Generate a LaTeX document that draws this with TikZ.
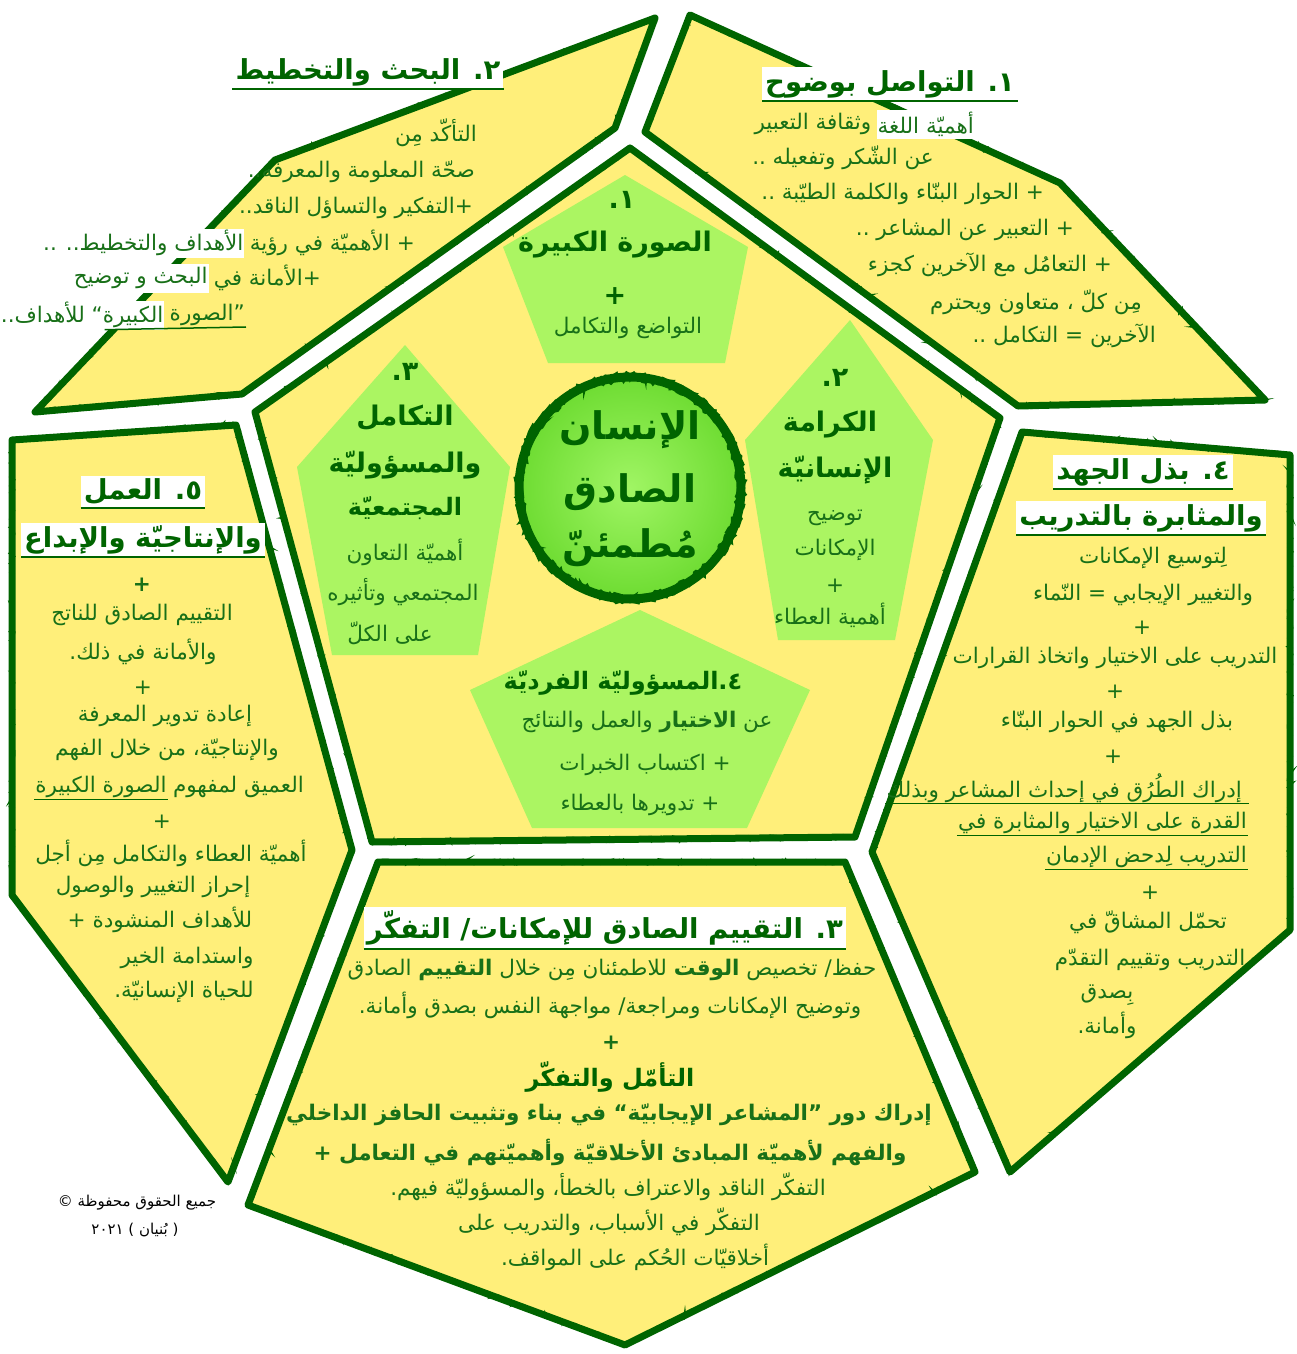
\documentclass[tikz,border=0pt]{standalone}
\usepackage{fontspec}
\usetikzlibrary{decorations.pathmorphing}
\TeXXeTstate=1
\newfontfamily\arfont[Script=Arabic]{DejaVu Sans}
\newcommand\AR[1]{\beginR #1\endR}
\definecolor{yel}{RGB}{255,239,122}
\definecolor{lgr}{RGB}{171,245,98}
\definecolor{dgr}{RGB}{0,100,0}
\definecolor{tgr}{RGB}{24,112,24}
\definecolor{cin}{RGB}{160,245,100}
\definecolor{cout}{RGB}{110,220,50}
\tikzset{
 region/.style={fill=yel, draw=dgr, line width=7pt, line join=round},
 rough/.style={draw=dgr, line width=2pt, decorate, decoration={random steps, segment length=3pt, amplitude=2.5pt}},
 gpent/.style={fill=lgr, draw=none},
 body/.style={text=tgr, font=\arfont\fontsize{21.5}{25}\selectfont, inner sep=1pt},
 bodyb/.style={text=tgr, font=\arfont\bfseries\fontsize{21.5}{25}\selectfont, inner sep=1pt},
 wbox/.style={fill=white, minimum height=29pt},
 title/.style={text=dgr, fill=white, font=\arfont\bfseries\fontsize{27.5}{33}\selectfont, inner sep=3pt},
 head/.style={text=dgr, font=\arfont\bfseries\fontsize{27}{31}\selectfont, inner sep=1pt},
 headm/.style={text=dgr, font=\arfont\bfseries\fontsize{24}{28}\selectfont, inner sep=1pt},
 big/.style={text=dgr, font=\arfont\bfseries\fontsize{38}{44}\selectfont, inner sep=1pt},
 uline/.style={draw=dgr, line width=1.5pt},
 copy/.style={text=black, font=\arfont\fontsize{15}{18}\selectfont, inner sep=1pt},
}
\begin{document}
\begin{tikzpicture}[x=1pt,y=-1pt]
\fill[white] (0,0) rectangle (1296,1354);
\useasboundingbox (0,0) rectangle (1296,1354);
% ---------- outer regions ----------
\def\pA{(242,394) -- (615,128) -- (655,18) -- (275,160) -- (35,412) -- cycle}
\def\pB{(645,132) -- (690,15) -- (1060,183) -- (1265,400) -- (1018,406) -- cycle}
\def\pC{(1022,432) -- (1290,455) -- (1290,930) -- (1010,1172) -- (872,852) -- cycle}
\def\pD{(378,862) -- (845,862) -- (975,1172) -- (625,1345) -- (248,1205) -- cycle}
\def\pE{(12,440) -- (236,425) -- (352,850) -- (228,1182) -- (12,895) -- cycle}
\def\pI{(630,148) -- (1000,418) -- (855,837) -- (372,842) -- (255,412) -- cycle}
\foreach \p in {\pA,\pB,\pC,\pD,\pE,\pI}{
  \draw[region] \p;
  \draw[rough] \p;
}
% ---------- green pentagons ----------
\fill[gpent] (625,175) -- (748,247) -- (725,363) -- (548,363) -- (503,247) -- cycle;
\fill[gpent] (850,320) -- (933,440) -- (895,640) -- (778,640) -- (745,440) -- cycle;
\fill[gpent] (405,345) -- (510,467) -- (478,655) -- (332,655) -- (297,467) -- cycle;
\fill[gpent] (640,610) -- (810,690) -- (747,828) -- (532,828) -- (470,690) -- cycle;
% ---------- centre circle ----------
\node[circle, minimum size=222pt, inner color=cin, outer color=cout, draw=dgr, line width=9pt] (ctr) at (630,488) {};
\draw[rough, line width=3pt] (ctr.center) circle (113);
\draw[rough] (ctr.center) circle (108);
\node[big] (m1) at (630,430) {\AR{الإنسان}};
\node[big] (m2) at (630,492) {\AR{الصادق}};
\node[big] (m3) at (630,548) {\AR{مُطمئنّ}};
% ---------- inner pentagon 1 ----------
\node[head] (p1a) at (622,200) {\AR{١\kern0pt.}};
\node[head] (p1b) at (615,245) {\AR{الصورة الكبيرة}};
\node[head] (p1c) at (615,296) {+};
\node[body] (p1d) at (628,328) {\AR{التواضع والتكامل}};
% ---------- inner pentagon 2 ----------
\node[head] (p2a) at (835,378) {\AR{٢\kern0pt.}};
\node[head] (p2b) at (830,425) {\AR{الكرامة}};
\node[head] (p2c) at (835,470) {\AR{الإنسانيّة}};
\node[body] (p2d) at (835,518) {\AR{توضيح}};
\node[body] (p2e) at (835,550) {\AR{الإمكانات}};
\node[body] (p2f) at (835,586) {+};
\node[body] (p2g) at (830,615) {\AR{أهمية العطاء}};
% ---------- inner pentagon 3 ----------
\node[head] (p3a) at (405,372) {\AR{٣\kern0pt.}};
\node[head] (p3b) at (405,418) {\AR{التكامل}};
\node[head] (p3c) at (405,465) {\AR{والمسؤوليّة}};
\node[headm] (p3d) at (405,508) {\AR{المجتمعيّة}};
\node[body] (p3e) at (405,552) {\AR{أهميّة التعاون}};
\node[body] (p3f) at (403,592) {\AR{المجتمعي وتأثيره}};
\node[body] (p3g) at (390,633) {\AR{على الكلّ}};
% ---------- inner pentagon 4 ----------
\node[headm] (p4a) at (623,683) {\AR{٤\kern0pt.\kern0ptالمسؤوليّة الفرديّة}};
\node[body] (p4b) at (647,722) {\AR{عن {\bfseries الاختيار} والعمل والنتائج}};
\node[body] (p4c) at (645,765) {\AR{+ اكتساب الخبرات}};
\node[body] (p4d) at (640,805) {\AR{+ تدويرها بالعطاء}};
% ---------- region A ----------
\node[title] (tA) at (368,72) {\AR{٢\kern0pt. البحث والتخطيط}};
\draw[uline] (tA.south west) -- (tA.south east);
\node[body, anchor=east] (a1) at (478,133) {\AR{التأكّد مِن}};
\node[body, anchor=east] (a2) at (476,172) {\AR{صحّة المعلومة والمعرفه..}};
\node[body, anchor=east] (a3) at (474,208) {\AR{+التفكير والتساؤل الناقد..}};
\node[body, anchor=east] (a4a) at (416,243) {\AR{+ الأهميّة في رؤية}};
\node[body, wbox, anchor=east] (a4b) at ([xshift=-4pt]a4a.west) {\AR{الأهداف والتخطيط.. ..}};
\node[body, anchor=east] (a5a) at (322,278) {\AR{+الأمانة في}};
\node[body, wbox, anchor=east] (a5b) at ([xshift=-4pt]a5a.west) {\AR{البحث و توضيح}};
\node[body, anchor=east] (a6a) at (246,315) {\AR{”الصورة}};
\node[body, wbox, anchor=east] (a6b) at ([xshift=-4pt]a6a.west) {\AR{الكبيرة“ للأهداف..}};
\draw[uline] (a6a.south east) -- ([xshift=105pt]a6b.south west);
% ---------- region B ----------
\node[title] (tB) at (890,84) {\AR{١\kern0pt. التواصل بوضوح}};
\draw[uline] (tB.south west) -- (tB.south east);
\node[body, wbox, anchor=east] (b1a) at (975,124) {\AR{أهميّة اللغة}};
\node[body, anchor=east] (b1b) at ([xshift=-4pt]b1a.west) {\AR{وثقافة التعبير}};
\node[body, anchor=east] (b2) at (935,158) {\AR{عن الشّكر وتفعيله ..}};
\node[body, anchor=east] (b3) at (1045,194) {\AR{+ الحوار البنّاء والكلمة الطيّبة ..}};
\node[body, anchor=east] (b4) at (1075,230) {\AR{+ التعبير عن المشاعر ..}};
\node[body, anchor=east] (b5) at (1113,265) {\AR{+ التعامُل مع الآخرين كجزء}};
\node[body, anchor=east] (b6) at (1143,302) {\AR{مِن كلّ ، متعاون ويحترم}};
\node[body, anchor=east] (b7) at (1157,336) {\AR{الآخرين = التكامل ..}};
% ---------- region C ----------
\node[title] (tC1) at (1143,472) {\AR{٤\kern0pt. بذل الجهد}};
\draw[uline] (tC1.south west) -- (tC1.south east);
\node[title] (tC2) at (1141,518) {\AR{والمثابرة بالتدريب}};
\draw[uline] (tC2.south west) -- (tC2.south east);
\node[body] (c1) at (1153,558) {\AR{لِتوسيع الإمكانات}};
\node[body] (c2) at (1143,595) {\AR{والتغيير الإيجابي = النّماء}};
\node[body] (c3) at (1142,628) {+};
\node[body] (c4) at (1115,658) {\AR{التدريب على الاختيار واتخاذ القرارات}};
\node[body] (c5) at (1115,692) {+};
\node[body] (c6) at (1117,722) {\AR{بذل الجهد في الحوار البنّاء}};
\node[body] (c7) at (1113,757) {+};
\node[body, anchor=east] (c8) at (1243,788) {\AR{إدراك الطُرُق في إحداث المشاعر وبذلك}};
\draw[uline, line width=1pt] (c8.south west) -- ([xshift=6pt]c8.south east);
\node[body, anchor=east] (c9) at (1248,823) {\AR{القدرة على الاختيار والمثابرة في}};
\draw[uline, line width=1pt] (c9.south west) -- (c9.south east);
\node[body, anchor=east] (c10) at (1248,857) {\AR{التدريب لِدحض الإدمان}};
\draw[uline, line width=1pt] (c10.south west) -- (c10.south east);
\node[body] (c11) at (1150,893) {+};
\node[body] (c12) at (1148,922) {\AR{تحمّل المشاقّ في}};
\node[body] (c13) at (1150,960) {\AR{التدريب وتقييم التقدّم}};
\node[body] (c14) at (1107,995) {\AR{بِصدق}};
\node[body] (c15) at (1107,1025) {\AR{وأمانة.}};
% ---------- region E ----------
\node[title] (tE1) at (143,492) {\AR{٥\kern0pt. العمل}};
\draw[uline] (tE1.south west) -- (tE1.south east);
\node[title] (tE2) at (143,540) {\AR{والإنتاجيّة والإبداع}};
\draw[uline] (tE2.south west) -- (tE2.south east);
\node[bodyb] (e1) at (142,585) {+};
\node[body] (e2) at (142,615) {\AR{التقييم الصادق للناتج}};
\node[body] (e3) at (143,652) {\AR{والأمانة في ذلك.}};
\node[body] (e4) at (143,688) {+};
\node[body] (e5) at (165,716) {\AR{إعادة تدوير المعرفة}};
\node[body] (e6) at (167,750) {\AR{والإنتاجيّة، من خلال الفهم}};
\node[body, anchor=east] (e7a) at (305,787) {\AR{العميق لمفهوم}};
\node[body, anchor=east] (e7b) at ([xshift=-4pt]e7a.west) {\AR{الصورة الكبيرة}};
\draw[uline, line width=1pt] (e7b.south west) -- (e7b.south east);
\node[body] (e8) at (162,822) {+};
\node[body] (e9) at (171,853) {\AR{أهميّة العطاء والتكامل مِن أجل}};
\node[body] (e10) at (153,887) {\AR{إحراز التغيير والوصول}};
\node[body] (e11) at (160,920) {\AR{للأهداف المنشودة +}};
\node[body] (e12) at (187,958) {\AR{واستدامة الخير}};
\node[body] (e13) at (184,992) {\AR{للحياة الإنسانيّة.}};
% ---------- region D ----------
\node[title] (tD) at (605,928) {\AR{٣\kern0pt. التقييم الصادق للإمكانات/ التفكّر}};
\draw[uline] (tD.south west) -- (tD.south east);
\node[body] (d1) at (612,970) {\AR{حفظ/ تخصيص {\bfseries الوقت} للاطمئنان مِن خلال {\bfseries التقييم} الصادق}};
\node[body] (d2) at (610,1005) {\AR{وتوضيح الإمكانات ومراجعة/ مواجهة النفس بصدق وأمانة.}};
\node[bodyb] (d3) at (611,1043) {+};
\node[headm] (d4) at (610,1077) {\AR{التأمّل والتفكّر}};
\node[bodyb] (d5) at (609,1115) {\AR{إدراك دور ”المشاعر الإيجابيّة“ في بناء وتثبيت الحافز الداخلي}};
\node[bodyb] (d6) at (610,1152) {\AR{والفهم لأهميّة المبادئ الأخلاقيّة وأهميّتهم في التعامل +}};
\node[body] (d7) at (608,1187) {\AR{التفكّر الناقد والاعتراف بالخطأ، والمسؤوليّة فيهم.}};
\node[body] (d8) at (609,1222) {\AR{التفكّر في الأسباب، والتدريب على}};
\node[body] (d9) at (635,1257) {\AR{أخلاقيّات الحُكم على المواقف.}};
% ---------- copyright ----------
\node[copy] (cp1) at (137,1203) {\AR{جميع الحقوق محفوظة ©}};
\node[copy] (cp2) at (135,1230) {\AR{( بُنيان ) ٢٠٢١}};
\end{tikzpicture}
\end{document}
